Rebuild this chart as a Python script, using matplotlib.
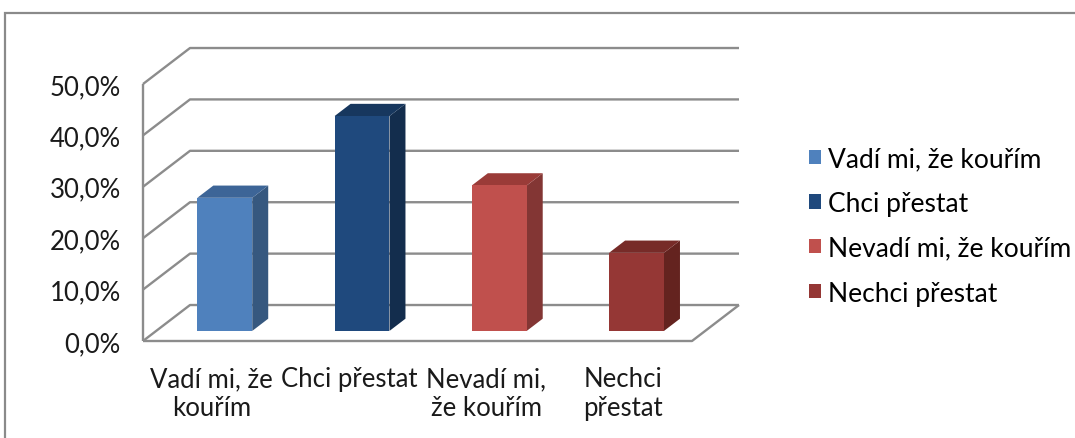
import matplotlib.pyplot as plt
from matplotlib.patches import Polygon, Patch, Rectangle

# data
categories = ['Vadí mi, že\nkouřím', 'Chci přestat', 'Nevadí mi,\nže kouřím', 'Nechci\npřestat']
legend_labels = ['Vadí mi, že kouřím', 'Chci přestat', 'Nevadí mi, že kouřím', 'Nechci přestat']
values = [25.9, 41.8, 28.3, 15.2]
y_ticks = [0, 10, 20, 30, 40, 50]

# colours (front, side, top)
front_colors = ['#4F81BD', '#1F497D', '#C0504D', '#953735']
side_colors = ['#36587F', '#132D4D', '#833634', '#64231F']
top_colors = ['#3D6597', '#17375E', '#9A3B38', '#772B28']

plt.rcParams['font.family'] = ['Lato', 'DejaVu Sans']

W, H = 1075, 439
fig = plt.figure(figsize=(W / 100, H / 100), dpi=100)

# axes = front plane of the 3D box
ax = fig.add_axes([143 / W, 97 / H, 549 / W, 257 / H])
ax.set_xlim(-0.5, len(values) - 0.5)
ax.set_ylim(0, 50)
for s in ax.spines.values():
    s.set_visible(False)

# oblique depth, in data units
DX, DY = 0.3425, 7.0
bar_w = 0.4
d_front, d_back = 0.28, 0.62

grid_kw = dict(color='#8C8C8C', lw=1.7, clip_on=False, zorder=1, solid_capstyle='butt')
x_left, x_right = -0.5, len(values) - 0.5
for g in y_ticks:
    ax.plot([x_left, x_left + DX, x_right + DX], [g, g + DY, g + DY], **grid_kw)
ax.plot([x_left, x_left], [0, y_ticks[-1]], **grid_kw)
ax.plot([x_left, x_right, x_right + DX], [0, 0, DY], **grid_kw)

fx, fy = d_front * DX, d_front * DY
bx, by = d_back * DX, d_back * DY
for i, v in enumerate(values):
    x0, x1 = i - bar_w / 2, i + bar_w / 2
    front = [(x0 + fx, fy), (x1 + fx, fy), (x1 + fx, v + fy), (x0 + fx, v + fy)]
    side = [(x1 + fx, fy), (x1 + bx, by), (x1 + bx, v + by), (x1 + fx, v + fy)]
    top = [(x0 + fx, v + fy), (x1 + fx, v + fy), (x1 + bx, v + by), (x0 + bx, v + by)]
    for pts, c in [(side, side_colors[i]), (top, top_colors[i]), (front, front_colors[i])]:
        ax.add_patch(Polygon(pts, closed=True, facecolor=c, edgecolor='none',
                             clip_on=False, zorder=2))

ax.set_yticks(y_ticks)
ax.set_yticklabels([f'{t:.1f}%'.replace('.', ',') for t in y_ticks])
ax.set_xticks(range(len(categories)))
ax.set_xticklabels(categories, linespacing=1.2)
ax.tick_params(axis='both', length=0, labelsize=18.5, colors='#1a1a1a')
ax.tick_params(axis='y', pad=16)
ax.tick_params(axis='x', pad=18)

handles = [Patch(facecolor=c, edgecolor='none') for c in front_colors]
fig.legend(handles, legend_labels, loc='upper left', bbox_to_anchor=(796 / W, 1 - 134 / H),
           frameon=False, fontsize=19, handlelength=0.45, handleheight=0.45,
           handletextpad=0.25, labelspacing=0.75, borderpad=0)

# outer chart frame (cut off at right and bottom)
fig.patches.append(Rectangle((5 / W, -0.1), 1.2, 1.1 - 14 / H, transform=fig.transFigure,
                             fill=False, edgecolor='#8A8A8A', lw=1.6))

fig.savefig('out.png', dpi=100)
